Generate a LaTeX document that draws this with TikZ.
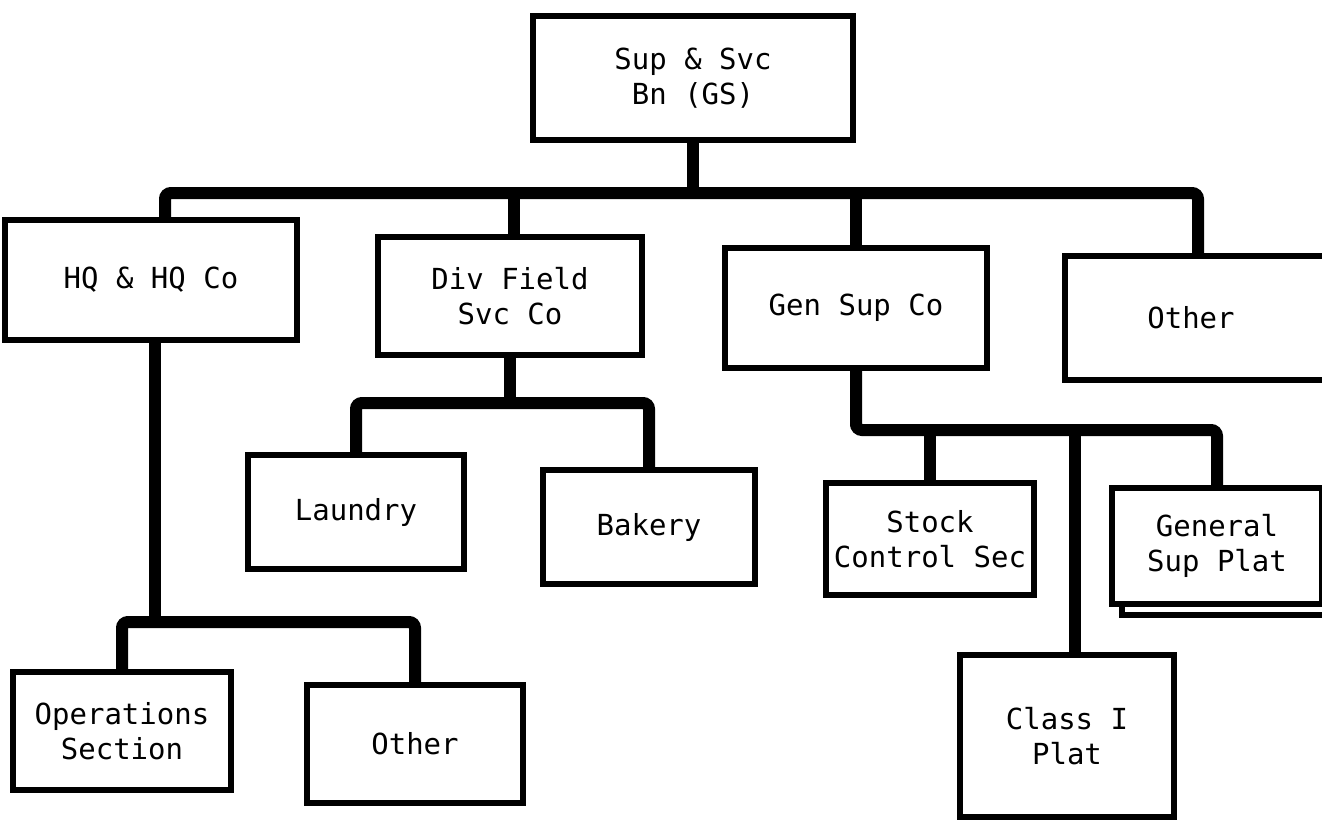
\documentclass[tikz,border=0pt]{standalone}
\usepackage{fontspec}
\setmainfont{DejaVu Sans Mono}
\begin{document}
\begin{tikzpicture}[x=0.5pt,y=-0.5pt,
        unit/.style={draw,line width=2.6pt,fill=white,align=center,inner sep=0pt,
          font=\fontsize{14.5}{17.5}\selectfont},
        bus/.style={line width=6pt,rounded corners=3pt}]
        \useasboundingbox (0,0) rectangle (1322,821);
        \node[unit,minimum width=160pt,minimum height=62pt] (bn) at (693,78) {Sup \& Svc\\Bn (GS)};
        \node[unit,minimum width=146pt,minimum height=60pt] (hq) at (151,280) {HQ \& HQ Co};
        \node[unit,minimum width=132pt,minimum height=59pt] (dfs) at (510,296) {Div Field\\Svc Co};
        \node[unit,minimum width=131pt,minimum height=60pt] (gen) at (856,308) {Gen Sup Co};
        \node[unit,minimum width=140pt,minimum height=62pt] (oth1) at (1205,318) {\hspace*{-14pt}Other};
        \node[unit,minimum width=108pt,minimum height=57pt] (lau) at (356,512) {Laundry};
        \node[unit,minimum width=106pt,minimum height=57pt] (bak) at (649,527) {Bakery};
        \node[unit,minimum width=104pt,minimum height=56pt] (stk) at (930,539) {Stock\\Control Sec};
        \draw[line width=2.6pt] (1122,605) -- (1122,615) -- (1340,615);
        \node[unit,minimum width=105pt,minimum height=58pt] (gsp) at (1217,546) {General\\Sup Plat};
        \node[unit,minimum width=107pt,minimum height=81pt] (cls) at (1067,736) {Class I\\Plat};
        \node[unit,minimum width=109pt,minimum height=59pt] (ops) at (122,731) {Operations\\Section};
        \node[unit,minimum width=108pt,minimum height=59pt] (oth2) at (415,744) {Other};
        \coordinate (b1) at (693,193);
        \coordinate (b2) at (155,622);
        \coordinate (b3) at (510,403);
        \coordinate (b4) at (856,430);
        % battalion to companies
        \draw[bus] ([xshift=7pt]hq.north) |- (b1) -| ([xshift=-3.5pt]oth1.north);
        \draw[bus] (bn.south) -- (bn.south |- b1);
        \draw[bus] ([xshift=2pt]dfs.north) -- ([xshift=2pt]dfs.north |- b1);
        \draw[bus] (gen.north) -- (gen.north |- b1);
        % companies to sections
        \draw[bus] ([xshift=2pt]hq.south) -- ([xshift=2pt]hq.south |- b2);
        \draw[bus] (ops.north) |- (b2) -| (oth2.north);
        \draw[bus] (dfs.south) -- (dfs.south |- b3);
        \draw[bus] (lau.north) |- (b3) -| (bak.north);
        \draw[bus] (gen.south) |- (b4) -| (gsp.north);
        \draw[bus] (stk.north) -- (stk.north |- b4);
        \draw[bus] ([xshift=4pt]cls.north) -- ([xshift=4pt]cls.north |- b4);
\end{tikzpicture}
\end{document}
